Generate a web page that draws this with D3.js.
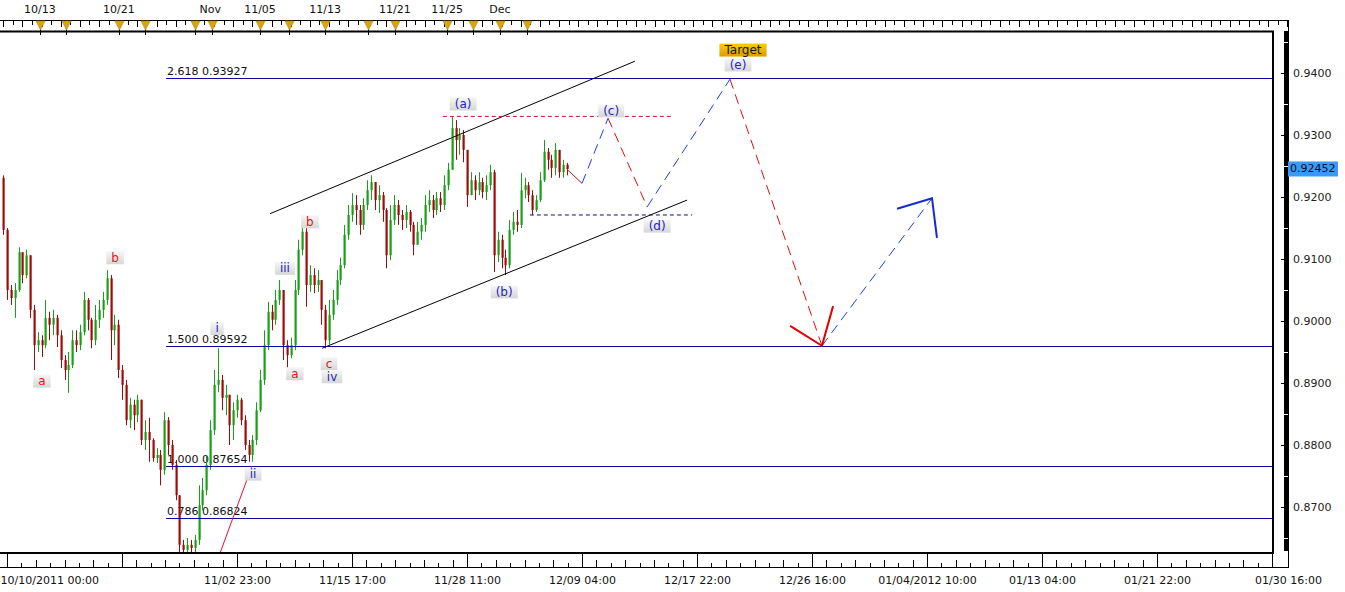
<!DOCTYPE html>
<html><head><meta charset="utf-8">
<script src="https://cdn.jsdelivr.net/npm/d3@7"></script>
<style>
html,body{margin:0;padding:0;background:#fff;overflow:hidden}
svg{display:block;font-family:"DejaVu Sans",Verdana,sans-serif}
</style></head><body>
<svg id="c" width="1345" height="592"></svg>
<script>
// ---------------- DATA ----------------
const firstBar = -1;
const firstOpen = 0.9231;
const closes = [0.9147,0.9050,0.9037,0.9050,0.9111,0.9074,0.9106,0.9018,0.8961,0.8969,
0.8961,0.9005,0.8994,0.9005,0.8977,0.8937,0.8921,0.8929,0.8969,0.8961,
0.8982,0.9034,0.9002,0.8969,0.9002,0.9018,0.9034,0.9069,0.8985,0.8994,
0.8921,0.8897,0.8840,0.8865,0.8848,0.8873,0.8808,0.8821,0.8808,0.8779,
0.8784,0.8760,0.8840,0.8800,0.8768,0.8719,0.8639,0.8631,0.8639,0.8634,
0.8647,0.8703,0.8727,0.8768,0.8824,0.8897,0.8905,0.8876,0.8881,0.8832,
0.8856,0.8873,0.8840,0.8800,0.8784,0.8808,0.8856,0.8905,0.8961,0.9015,
0.9002,0.9034,0.9050,0.8961,0.8945,0.8961,0.9050,0.9115,0.9144,0.9058,
0.9074,0.9058,0.9066,0.9018,0.8969,0.9010,0.9034,0.9066,0.9090,0.9139,
0.9171,0.9187,0.9179,0.9155,0.9187,0.9211,0.9224,0.9195,0.9203,0.9179,
0.9106,0.9163,0.9187,0.9171,0.9163,0.9176,0.9155,0.9123,0.9144,0.9155,
0.9187,0.9195,0.9179,0.9198,0.9187,0.9219,0.9244,0.9311,0.9292,0.9300,
0.9276,0.9203,0.9227,0.9211,0.9224,0.9208,0.9219,0.9240,0.9106,0.9131,
0.9102,0.9090,0.9147,0.9160,0.9155,0.9211,0.9219,0.9203,0.9179,0.9195,
0.9227,0.9273,0.9260,0.9247,0.9276,0.9240,0.9252,0.92452];
const highs = [0.9235,0.9150,0.9058,0.9061,0.9119,0.9102,0.9115,0.9106,0.9026,0.8982,
0.8977,0.9034,0.9015,0.9018,0.9010,0.8985,0.8945,0.8950,0.8985,0.8985,
0.8994,0.9047,0.9037,0.9005,0.9026,0.9034,0.9047,0.9082,0.9074,0.9010,
0.9002,0.8929,0.8905,0.8876,0.8873,0.8881,0.8873,0.8840,0.8844,0.8811,
0.8795,0.8792,0.8853,0.8845,0.8808,0.8776,0.8719,0.8647,0.8650,0.8647,
0.8655,0.8735,0.8747,0.8784,0.8840,0.8921,0.8956,0.8913,0.8897,0.8881,
0.8869,0.8881,0.8876,0.8848,0.8808,0.8816,0.8869,0.8921,0.8985,0.9031,
0.9026,0.9050,0.9066,0.9050,0.8969,0.8973,0.9066,0.9131,0.9153,0.9150,
0.9090,0.9085,0.9082,0.9066,0.9026,0.9034,0.9050,0.9082,0.9102,0.9155,
0.9187,0.9206,0.9203,0.9187,0.9198,0.9227,0.9235,0.9224,0.9219,0.9208,
0.9182,0.9187,0.9203,0.9195,0.9179,0.9187,0.9179,0.9160,0.9160,0.9166,
0.9203,0.9211,0.9203,0.9208,0.9208,0.9235,0.9255,0.9329,0.9324,0.9311,
0.9308,0.9276,0.9240,0.9235,0.9240,0.9231,0.9235,0.9252,0.9244,0.9144,
0.9139,0.9115,0.9163,0.9176,0.9179,0.9239,0.9231,0.9224,0.9211,0.9203,
0.9240,0.9292,0.9279,0.9268,0.9287,0.9276,0.9260,0.9255];
const lows = [0.9139,0.9034,0.9026,0.9005,0.9047,0.9061,0.9069,0.9005,0.8921,0.8950,
0.8942,0.8956,0.8969,0.8977,0.8958,0.8924,0.8905,0.8884,0.8924,0.8950,
0.8953,0.8977,0.8985,0.8956,0.8961,0.8989,0.9005,0.9026,0.8937,0.8961,
0.8908,0.8873,0.8832,0.8827,0.8824,0.8837,0.8800,0.8792,0.8773,0.8773,
0.8771,0.8735,0.8752,0.8784,0.8760,0.8711,0.8615,0.8615,0.8615,0.8615,
0.8621,0.8639,0.8695,0.8719,0.8760,0.8816,0.8885,0.8856,0.8848,0.8800,
0.8808,0.8844,0.8832,0.8792,0.8773,0.8773,0.8800,0.8853,0.8897,0.8953,
0.8985,0.8994,0.9026,0.8937,0.8924,0.8940,0.8953,0.9042,0.9106,0.9023,
0.9047,0.9045,0.9047,0.8994,0.8956,0.8962,0.9002,0.9026,0.9058,0.9085,
0.9131,0.9160,0.9155,0.9139,0.9147,0.9179,0.9195,0.9179,0.9174,0.9160,
0.9085,0.9098,0.9155,0.9155,0.9147,0.9150,0.9144,0.9106,0.9123,0.9131,
0.9144,0.9176,0.9166,0.9171,0.9176,0.9179,0.9211,0.9244,0.9260,0.9268,
0.9256,0.9184,0.9203,0.9195,0.9203,0.9198,0.9195,0.9211,0.9079,0.9095,
0.9085,0.9074,0.9085,0.9139,0.9144,0.9150,0.9198,0.9192,0.9171,0.9176,
0.9192,0.9224,0.9244,0.9231,0.9235,0.9231,0.9231,0.9235];

const bottomTickBars = [0,30,60,90,120,150,180,210,240,270,300,330];
const bottomLabels = ["10/10/2011 00:00","","11/02 23:00","11/15 17:00","11/28 11:00","12/09 04:00",
  "12/17 22:00","12/26 16:00","01/04/2012 10:00","01/13 04:00","01/21 22:00","01/30 16:00"];
const priceTicks = [0.87,0.88,0.89,0.90,0.91,0.92,0.93,0.94];
const topLabels = ["10/13","10/21","Nov","11/05","11/13","11/21","11/25","Dec"];
const topLabelBars = [8.6,29.2,53.0,66.0,83.0,101.2,114.8,128.6];
const eventBars = [8.6,15.4,29.2,36.0,49.0,53.5,66.0,73.6,83.0,94.2,101.2,114.8,121.6,128.6,135.6];

const fibLevels = ["2.618","1.500","1.000","0.786"];
const fibPrices = [0.93927,0.89592,0.87654,0.86824];
const fibStartBar = 41.5;

const channelUpper = [[68.6,0.9173],[163.8,0.9419]];
const channelLower = [[82.2,0.8956],[177.4,0.9195]];
const waveAHigh = [[113.7,0.9330],[173.7,0.9330]];
const waveDLow = [[136.4,0.9171],[178.7,0.9171]];
const trendLine = [[55.6,0.8626],[63.9,0.8766]];

const projBars = [146,150,156.8,167.0,188.6,212.6,241.3];
const projPrices = [0.92452,0.9222,0.9327,0.9184,0.9390,0.8960,0.9198];
const downArrow = [[204.3,0.8992],[212.6,0.8960],[215.5,0.9024]];
const upArrow = [[232.2,0.9181],[241.3,0.9198],[242.6,0.9134]];

const waveText = ["a","b","i","ii","iii","a","b","c","iv","(a)","(b)","(c)","(d)","(e)"];
const waveBars = [9.1,28.2,54.8,64.2,72.5,75.1,79.0,84.0,84.8,119.0,129.7,157.6,169.6,190.7];
const wavePrices = [0.8903,0.9102,0.8988,0.8753,0.9085,0.8915,0.9160,0.8931,0.8910,0.9350,0.9047,0.9339,0.9153,0.9413];
const waveMinor = [1,1,0,0,0,1,1,1,0,0,0,0,0,0];
const targetText = "Target";
const targetBar = 192.0, targetPrice = 0.9437;
const lastPrice = 0.92452;

// ---------------- CHART ----------------
const svg = d3.select("#c");
const W = 1345, H = 592;
const plotR = 1273, plotT = 31, plotB = 553, axisX = 1288;
const x = d3.scaleLinear().domain([0,330]).range([7,1272]);
const y = d3.scaleLinear().domain([0.87,0.94]).range([507,73]);

const defs = svg.append("defs");
defs.append("clipPath").attr("id","clip").append("rect")
  .attr("x",0).attr("y",plotT+1).attr("width",plotR).attr("height",plotB-plotT-1);
const g1 = defs.append("linearGradient").attr("id","lblg").attr("x1",0).attr("y1",0).attr("x2",0).attr("y2",1);
g1.append("stop").attr("offset","0%").attr("stop-color","#f6f6f6");
g1.append("stop").attr("offset","100%").attr("stop-color","#d6d6d6");
const g2 = defs.append("linearGradient").attr("id","tgtg").attr("x1",0).attr("y1",0).attr("x2",0).attr("y2",1);
g2.append("stop").attr("offset","0%").attr("stop-color","#f8cc10");
g2.append("stop").attr("offset","100%").attr("stop-color","#dc9c00");

svg.append("rect").attr("width",W).attr("height",H).attr("fill","#fff");

const plot = svg.append("g").attr("clip-path","url(#clip)");
const line = d3.line().x(d=>x(d[0])).y(d=>y(d[1]));

// fib label texts (under candles)
fibPrices.forEach((p,i)=>{
  plot.append("text").attr("x",x(fibStartBar)+1).attr("y",y(p)-3)
    .attr("font-size",11).attr("fill","#111").text(fibLevels[i]+" "+p.toFixed(5));
});

// candles
const candles = closes.map((c,i)=>({bar:firstBar+i, o: i===0?firstOpen:closes[i-1], c, h:highs[i], l:lows[i]}));
const green = "#18a018", red = "#a00a0a";
const cg = plot.append("g");
cg.selectAll("line").data(candles).join("line")
  .attr("x1",d=>Math.round(x(d.bar))+0.5).attr("x2",d=>Math.round(x(d.bar))+0.5)
  .attr("y1",d=>y(d.h)).attr("y2",d=>y(d.l))
  .attr("stroke",d=>d.c>=d.o?green:red).attr("stroke-width",1);
cg.selectAll("rect").data(candles).join("rect")
  .attr("x",d=>Math.round(x(d.bar))-0.5).attr("width",2.2)
  .attr("y",d=>y(Math.max(d.o,d.c)))
  .attr("height",d=>Math.max(1,Math.abs(y(d.o)-y(d.c))))
  .attr("fill",d=>d.c>=d.o?green:red);

// fib lines
fibPrices.forEach(p=>{
  plot.append("line").attr("x1",x(fibStartBar)).attr("x2",plotR)
    .attr("y1",Math.round(y(p))+0.5).attr("y2",Math.round(y(p))+0.5)
    .attr("stroke","#0a0aa0").attr("stroke-width",1);
});

// channel and reference lines
plot.append("path").attr("d",line(channelUpper)).attr("stroke","#000").attr("fill","none");
plot.append("path").attr("d",line(channelLower)).attr("stroke","#000").attr("fill","none");
plot.append("path").attr("d",line(waveAHigh)).attr("stroke","#c8103c").attr("stroke-dasharray","4,3").attr("fill","none");
plot.append("path").attr("d",line(waveDLow)).attr("stroke","#101070").attr("stroke-dasharray","4,3").attr("fill","none");
plot.append("path").attr("d",line(trendLine)).attr("stroke","#e01030").attr("fill","none");

// projection
const blue = "#1d3ee0", pred = "#d81010";
for(let i=0;i<projBars.length-1;i++){
  const seg = [[projBars[i],projPrices[i]],[projBars[i+1],projPrices[i+1]]];
  const up = projPrices[i+1] > projPrices[i];
  const p = plot.append("path").attr("d",line(seg)).attr("fill","none")
    .attr("stroke", up?blue:pred).attr("stroke-width",1);
  if(i>0) p.attr("stroke-dasharray","10,6");
}
plot.append("path").attr("d",line(downArrow)).attr("fill","none").attr("stroke","#e20000").attr("stroke-width",2);
plot.append("path").attr("d",line(upArrow)).attr("fill","none").attr("stroke","#1428d8").attr("stroke-width",2);

// wave labels
function boxLabel(parent, cx, cy, txt, color, fill, size){
  const t = parent.append("text").attr("x",cx).attr("y",cy).attr("text-anchor","middle")
    .attr("dominant-baseline","central").attr("font-size",size).attr("fill",color).text(txt);
  const w = t.node().getComputedTextLength();
  parent.insert("rect", function(){return t.node();})
    .attr("x",cx-w/2-5).attr("y",cy-6.5).attr("width",w+10).attr("height",13).attr("fill",fill);
}
const lblG = plot.append("g");
waveText.forEach((t,i)=>{
  boxLabel(lblG, x(waveBars[i]), y(wavePrices[i]), t, waveMinor[i]?"#e41414":"#2424c8", "url(#lblg)", 12);
});
boxLabel(lblG, x(targetBar), y(targetPrice), targetText, "#1a1a1a", "url(#tgtg)", 12);

// ---- frame ----
svg.append("line").attr("x1",0).attr("x2",plotR+1).attr("y1",plotT+0.5).attr("y2",plotT+0.5).attr("stroke","#000").attr("stroke-width",2);
svg.append("line").attr("x1",plotR).attr("x2",plotR).attr("y1",plotT).attr("y2",plotB+1).attr("stroke","#000").attr("stroke-width",2);
svg.append("line").attr("x1",0).attr("x2",plotR+1).attr("y1",plotB).attr("y2",plotB).attr("stroke","#000").attr("stroke-width",2);

// ---- bottom axis ----
const bAxis = svg.append("g").attr("transform",`translate(0,${plotB})`)
  .call(d3.axisBottom(x).tickValues(bottomTickBars).tickSize(14).tickPadding(9)
    .tickFormat((d,i)=>bottomLabels[i]));
bAxis.select(".domain").remove();
bAxis.selectAll("line").attr("stroke","#000").attr("shape-rendering","crispEdges");
bAxis.selectAll("text").attr("font-size",11).attr("font-family","DejaVu Sans, Verdana, sans-serif").attr("fill","#111");
bAxis.selectAll(".tick").filter((d,i)=>i===0).select("text").attr("text-anchor","start").attr("x",-7);
bAxis.selectAll(".tick").filter((d,i)=>i===bottomLabels.length-1).select("text").attr("x",16);
svg.append("line").attr("x1",0).attr("x2",axisX).attr("y1",567.5).attr("y2",567.5).attr("stroke","#000");
const minorB = d3.range(0,330,3.75).filter((d,i)=>i%8!==0);
svg.append("g").selectAll("line").data(minorB).join("line")
  .attr("x1",d=>Math.round(x(d))+0.5).attr("x2",d=>Math.round(x(d))+0.5)
  .attr("y1",(d,i)=>567-((i%2===0)?4:7)).attr("y2",567).attr("stroke","#000");

// ---- right axis ----
svg.append("line").attr("x1",axisX+0.5).attr("x2",axisX+0.5).attr("y1",20).attr("y2",568).attr("stroke","#000");
const rAxis = svg.append("g").attr("transform",`translate(${axisX},0)`)
  .call(d3.axisRight(y).tickValues(priceTicks).tickSize(-7).tickPadding(5).tickFormat(d3.format(".4f")));
rAxis.select(".domain").remove();
rAxis.selectAll("line").attr("stroke","#000").attr("shape-rendering","crispEdges");
rAxis.selectAll("text").attr("font-size",11).attr("font-family","DejaVu Sans, Verdana, sans-serif").attr("fill","#222");
const minorR = d3.range(8630,9468).filter(v=>v%10!==0).map(v=>v/10000);
svg.append("g").selectAll("line").data(minorR).join("line")
  .attr("x1",axisX-4).attr("x2",axisX).attr("y1",d=>Math.round(y(d))+0.5).attr("y2",d=>Math.round(y(d))+0.5)
  .attr("stroke","#000");
// last price box
const ly = y(lastPrice);
svg.append("rect").attr("x",axisX).attr("y",ly-7.5).attr("width",50).attr("height",15).attr("fill","#3b9bf4");
svg.append("text").attr("x",axisX+2).attr("y",ly).attr("dominant-baseline","central")
  .attr("font-size",11).attr("fill","#0a0a30").text(lastPrice.toFixed(5));

// ---- top ruler ----
svg.append("line").attr("x1",0).attr("x2",axisX).attr("y1",20.5).attr("y2",20.5).attr("stroke","#000");
const minorT = d3.range(-1,335,2.5);
svg.append("g").selectAll("line").data(minorT).join("line")
  .attr("x1",d=>Math.round(x(d))+0.5).attr("x2",d=>Math.round(x(d))+0.5)
  .attr("y1",20).attr("y2",(d,i)=>i%2?25:27).attr("stroke","#000");
const ev = svg.append("g").selectAll("g").data(eventBars).join("g")
  .attr("transform",d=>`translate(${Math.round(x(d))+0.5},0)`);
ev.append("line").attr("y1",20).attr("y2",35).attr("stroke","#000");
ev.append("path").attr("d","M-4.5,21L4.5,21L0,30Z").attr("fill","#d6a514").attr("stroke","#b8860b").attr("stroke-width",0.6);
svg.append("g").selectAll("text").data(topLabels).join("text")
  .attr("x",(d,i)=>x(topLabelBars[i])).attr("y",13).attr("text-anchor","middle")
  .attr("font-size",11).attr("fill","#111").text(d=>d);
</script>
</body></html>
